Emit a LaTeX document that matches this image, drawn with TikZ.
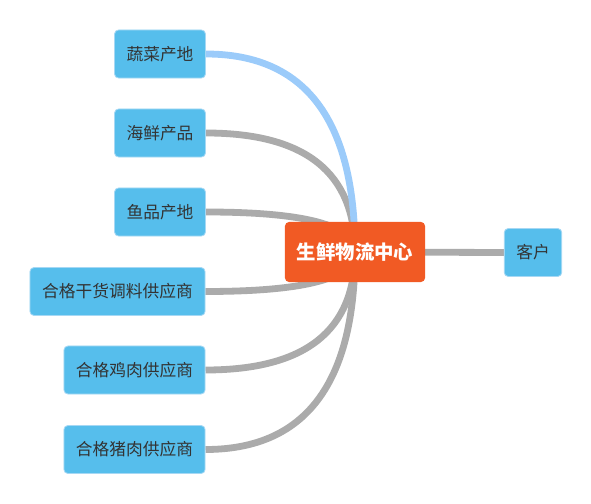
\documentclass[tikz,border=0pt]{standalone}
\usepackage{fontspec}
\newfontfamily\cjk{Noto Sans CJK SC}
\usetikzlibrary{backgrounds,calc}
\definecolor{boxblue}{HTML}{56BEEC}
\definecolor{boxedge}{HTML}{A6D8F4}
\definecolor{hubred}{HTML}{F15A24}
\definecolor{linkgray}{HTML}{ABABAB}
\definecolor{linkblue}{HTML}{9BCBFA}
\tikzset{
	src/.style={draw=boxedge,fill=boxblue,rounded corners=0.1cm,line width=0.6pt,minimum height=1.2cm,
		text=black!80,font=\cjk\fontsize{11.9pt}{13pt}\selectfont,inner xsep=0.3cm},
	hub/.style={fill=hubred,rounded corners=0.1cm,minimum width=3.5cm,minimum height=1.5cm,
		text=white,font=\cjk\bfseries\fontsize{13.8pt}{15pt}\selectfont},
	link/.style={draw=linkgray,line width=0.17cm},
}
\begin{document}
\begin{tikzpicture}[x=0.025cm,y=-0.025cm]
	\useasboundingbox (0,0) rectangle (591,504);
	\node[hub] (H) at (355,252) {生鲜物流中心};
	\node[src,minimum width=2.25cm] (S1) at (160,54) {蔬菜产地};
	\node[src,minimum width=2.25cm] (S2) at (160,133) {海鲜产品};
	\node[src,minimum width=2.25cm] (S3) at (160,212) {鱼品产地};
	\node[src,minimum width=4.375cm] (S4) at (117.5,291.5) {合格干货调料供应商};
	\node[src,minimum width=3.525cm] (S5) at (134.5,370) {合格鸡肉供应商};
	\node[src,minimum width=3.525cm] (S6) at (134.5,449.5) {合格猪肉供应商};
	\node[src,minimum width=1.4cm] (K) at (533,252.5) {客户};
	% connectors behind the boxes (quadratic bends into the hub)
	\begin{scope}[on background layer]
		\foreach \s/\c in {S2/linkgray,S3/linkgray,S4/linkgray,S5/linkgray,S6/linkgray,S1/linkblue}
			\draw[link,draw=\c] (\s.east) .. controls ($(\s.east)!0.667!(H.center |- \s.east)$)
				and ($(H.center)!0.667!(H.center |- \s.east)$) .. (H.center);
		\draw[link] (H.center) -- (K.west);
	\end{scope}
\end{tikzpicture}
\end{document}
